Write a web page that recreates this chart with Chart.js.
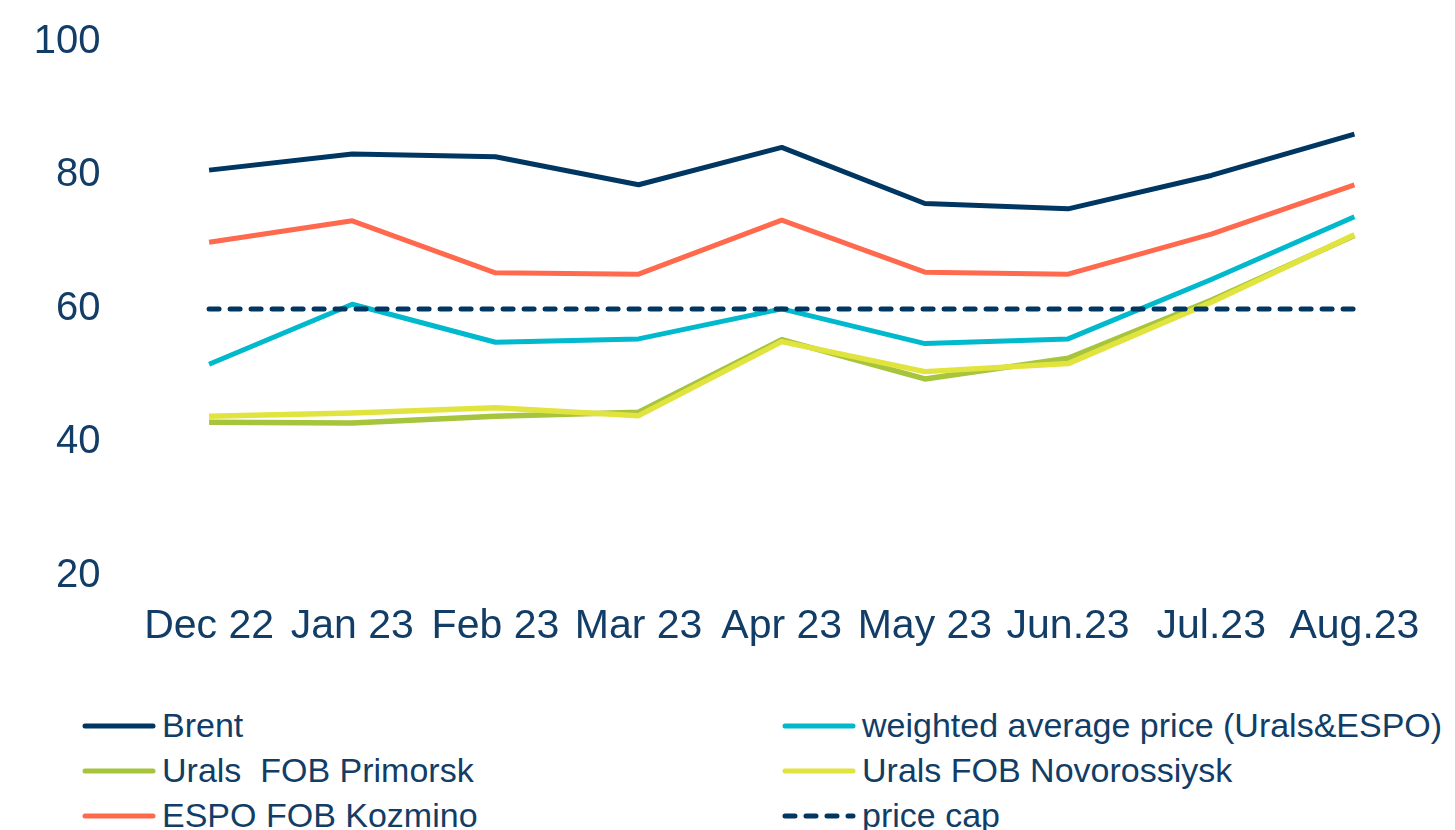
<!DOCTYPE html>
<html>
<head>
<meta charset="utf-8">
<script src="https://cdn.jsdelivr.net/npm/chart.js@4.4.0/dist/chart.umd.min.js"></script>
<style>
  body { margin: 0; background: #fff; font-family: "Liberation Sans", Arial, sans-serif; }
  #wrap { position: relative; width: 1455px; height: 680px; }
  #legend { position: absolute; left: 0; top: 704px; width: 1455px; height: 126px; }
  .item { position: absolute; display: flex; align-items: center; font-size: 34px; color: #123d66; white-space: pre; }
  .item svg { margin-right: 4px; }
</style>
</head>
<body>
<div id="wrap"><canvas id="chart"></canvas></div>
<div id="legend"></div>
<script>
const months = ["Dec 22", "Jan 23", "Feb 23", "Mar 23", "Apr 23", "May 23", "Jun.23", "Jul.23", "Aug.23"];
const brent = [80.8, 83.2, 82.8, 78.6, 84.2, 75.8, 75.0, 80.0, 86.2];
const espoKozmino = [70.0, 73.2, 65.4, 65.2, 73.3, 65.5, 65.2, 71.2, 78.6];
const weightedAvg = [51.7, 60.7, 55.0, 55.5, 60.0, 54.8, 55.5, 64.4, 73.8];
const uralsPrimorsk = [43.0, 42.9, 43.9, 44.5, 55.4, 49.5, 52.6, 61.3, 71.0];
const uralsNovorossiysk = [43.9, 44.4, 45.2, 44.0, 55.1, 50.6, 51.8, 61.0, 71.1];
const priceCap = [60, 60, 60, 60, 60, 60, 60, 60, 60];
const yTicks = [20, 40, 60, 80, 100];

// legend reads left to right, two columns
const legendOrder = ["Brent", "weighted average price (Urals&ESPO)", "Urals  FOB Primorsk",
                     "Urals FOB Novorossiysk", "ESPO FOB Kozmino", "price cap"];

const textColor = "#123d66";
const canvas = document.getElementById("chart");
canvas.width = 1455;
canvas.height = 680;

// first dataset is drawn on top
const datasets = [
    { label: "price cap", data: priceCap, borderColor: "#003762", borderWidth: 5, borderDash: [10, 11], borderCapStyle: "round" },
    { label: "Brent", data: brent, borderColor: "#003762", borderWidth: 5 },
    { label: "ESPO FOB Kozmino", data: espoKozmino, borderColor: "#ff6a4f", borderWidth: 5 },
    { label: "weighted average price (Urals&ESPO)", data: weightedAvg, borderColor: "#00b9cc", borderWidth: 5 },
    { label: "Urals FOB Novorossiysk", data: uralsNovorossiysk, borderColor: "#e1e43e", borderWidth: 5.5 },
    { label: "Urals  FOB Primorsk", data: uralsPrimorsk, borderColor: "#a6c43c", borderWidth: 5.5 }
];

const grafico = new Chart(canvas, {
    type: "line",
    data: { labels: months, datasets },
    options: {
        responsive: false,
        animation: false,
        devicePixelRatio: 1,
        elements: { point: { radius: 0 }, line: { tension: 0, borderJoinStyle: "round" } },
        layout: { padding: { top: 42, right: 29, bottom: 3, left: 0 } },
        plugins: { legend: { display: false }, tooltip: { enabled: false } },
        scales: {
            x: {
                offset: true,
                grid: { display: false, drawTicks: false },
                border: { display: false },
                ticks: { color: textColor, font: { family: "Liberation Sans", size: 41 }, padding: 26, maxRotation: 0, autoSkip: false }
            },
            y: {
                min: 20,
                max: 100,
                afterBuildTicks: (scale) => { scale.ticks = yTicks.map(v => ({ value: v })); },
                afterFit: (scale) => {
                    scale.width = 137.5;
                    // the label padding should not push the plot down
                    scale.paddingTop = 0;
                    scale.paddingBottom = 0;
                },
                grid: { display: false, drawTicks: false },
                border: { display: false },
                ticks: { color: textColor, font: { family: "Liberation Sans", size: 40 }, padding: 37 }
            }
        }
    }
});

// ---------------- legend
const legend = document.getElementById("legend");
legendOrder.forEach((name, i) => {
    const ds = datasets.find(d => d.label === name);
    const col = i % 2;
    const row = Math.floor(i / 2);
    const item = document.createElement("div");
    item.className = "item";
    item.style.left = (col === 0 ? 80 : 780) + "px";
    item.style.top = (row * 45 + 2) + "px";
    const dash = ds.borderDash ? `stroke-dasharray="${ds.borderDash.join(" ")}"` : "";
    item.innerHTML = `<svg width="78" height="12"><line x1="5" y1="6" x2="73" y2="6" stroke="${ds.borderColor}" stroke-width="5" stroke-linecap="round" ${dash}/></svg>`;
    const span = document.createElement("span");
    span.textContent = name;
    item.appendChild(span);
    legend.appendChild(item);
});
</script>
</body>
</html>
